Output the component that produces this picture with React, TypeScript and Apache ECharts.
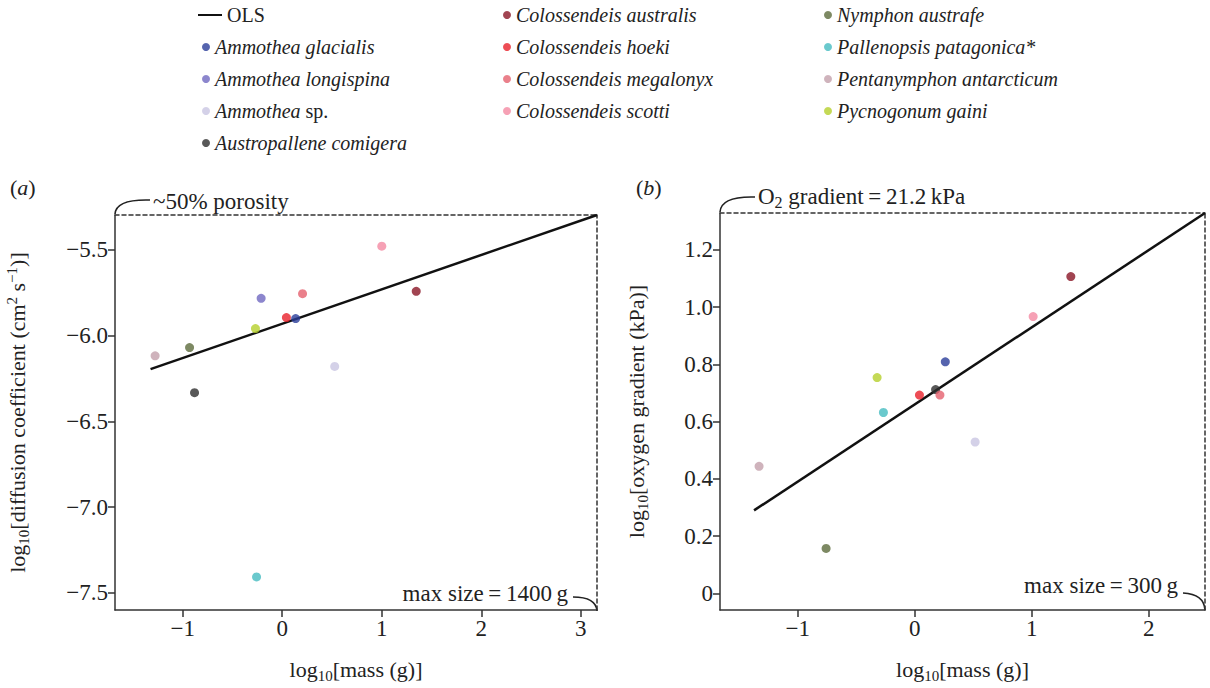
import { useEffect, useRef } from "react";
import * as echarts from "echarts";

// ---- data ----
const speciesNames = [
  "Ammothea glacialis",
  "Ammothea longispina",
  "Ammothea sp.",
  "Austropallene comigera",
  "Colossendeis australis",
  "Colossendeis hoeki",
  "Colossendeis megalonyx",
  "Colossendeis scotti",
  "Nymphon austrafe",
  "Pallenopsis patagonica*",
  "Pentanymphon antarcticum",
  "Pycnogonum gaini",
];
const speciesColors = [
  "#2a3d9a",
  "#6f68c0",
  "#c9c6e2",
  "#2e2e2e",
  "#8a1526",
  "#e8202a",
  "#e5606e",
  "#f48aa2",
  "#5c6b3c",
  "#45bcc0",
  "#c3a0ab",
  "#b5cf2c",
];
// panel (a): log10 mass vs log10 diffusion coefficient
const massA = [0.135, -0.212, 0.527, -0.881, 1.346, 0.042, 0.204, 1.0, -0.931, -0.258, -1.277, -0.269];
const diffusionA = [-5.901, -5.783, -6.18, -6.333, -5.742, -5.895, -5.756, -5.479, -6.07, -7.407, -6.118, -5.959];
// panel (b): log10 mass vs log10 oxygen gradient
const massB = [0.261, null, 0.516, 0.178, 1.334, 0.04, 0.215, 1.012, -0.758, -0.268, -1.331, -0.322];
const gradientB = [0.809, null, 0.529, 0.712, 1.107, 0.693, 0.693, 0.967, 0.157, 0.632, 0.444, 0.754];
const olsA = [[-1.323, -6.196], [3.162, -5.297]];
const olsB = [[-1.374, 0.29], [2.481, 1.329]];
const xTicksA = [-1, 0, 1, 2, 3];
const yTicksA = [-7.5, -7, -6.5, -6, -5.5];
const xTicksB = [-1, 0, 1, 2];
const yTicksB = [0, 0.2, 0.4, 0.6, 0.8, 1.0, 1.2];
const rangeA = { xMin: -1.68, xMax: 3.162, yMin: -7.6, yMax: -5.297 };
const rangeB = { xMin: -1.665, xMax: 2.481, yMin: -0.058, yMax: 1.329 };

const FONT = "Liberation Serif";
const INK = "#222";
const FS = 20; // legend
const FT = 22; // titles
const FA = 23; // annotations / ticks

const minus = (s: string) => s.replace("-", "\u2212");
const fmtInt = (v: number) => minus(String(Math.round(v)));
const fmt1 = (v: number) => (Math.abs(v) < 1e-9 ? "0" : minus(v.toFixed(1)));

function rich(size: number) {
  return {
    n: { fontFamily: FONT, fontSize: size, color: INK },
    i: { fontFamily: FONT, fontSize: size, color: INK, fontStyle: "italic" },
    sub: { fontFamily: FONT, fontSize: Math.round(size * 0.68), color: INK, padding: [13, 0, 0, 0] },
    sup: { fontFamily: FONT, fontSize: Math.round(size * 0.68), color: INK, padding: [0, 0, 11, 0] },
  };
}

function bottomAxis(gridIndex: number, r: any, ticks: number[], fmt: (v: number) => string) {
  return {
    type: "value",
    gridIndex,
    position: "bottom",
    min: r.xMin,
    max: r.xMax,
    splitLine: { show: false },
    axisLine: { show: true, onZero: false, lineStyle: { color: "#333", width: 1.5 } },
    axisTick: { show: true, length: 7, customValues: ticks, lineStyle: { color: "#333", width: 1.5 } },
    axisLabel: { customValues: ticks, formatter: fmt, fontFamily: FONT, fontSize: FA, color: INK, margin: 7 },
    name: "{n|log}{sub|10}{n|[mass (g)]}",
    nameLocation: "middle",
    nameGap: 45,
    nameTextStyle: { fontFamily: FONT, fontSize: FT, color: INK, rich: rich(FT) },
  };
}
function topAxis(gridIndex: number, r: any) {
  return {
    type: "value",
    gridIndex,
    position: "top",
    min: r.xMin,
    max: r.xMax,
    splitLine: { show: false },
    axisLine: { show: true, onZero: false, lineStyle: { color: "#333", width: 1.5, type: [4, 3] } },
    axisTick: { show: false },
    axisLabel: { show: false },
  };
}
function leftAxis(gridIndex: number, r: any, ticks: number[], name: string, gap: number) {
  return {
    type: "value",
    gridIndex,
    position: "left",
    min: r.yMin,
    max: r.yMax,
    splitLine: { show: false },
    axisLine: { show: true, onZero: false, lineStyle: { color: "#333", width: 1.5 } },
    axisTick: { show: true, length: 7, customValues: ticks, lineStyle: { color: "#333", width: 1.5 } },
    axisLabel: { customValues: ticks, formatter: fmt1, fontFamily: FONT, fontSize: FA, color: INK, margin: 7 },
    name,
    nameLocation: "middle",
    nameRotate: 90,
    nameGap: gap,
    nameTextStyle: { fontFamily: FONT, fontSize: FT, color: INK, rich: rich(FT) },
  };
}
function rightAxis(gridIndex: number, r: any) {
  return {
    type: "value",
    gridIndex,
    position: "right",
    min: r.yMin,
    max: r.yMax,
    splitLine: { show: false },
    axisLine: { show: true, onZero: false, lineStyle: { color: "#333", width: 1.5, type: [4, 3] } },
    axisTick: { show: false },
    axisLabel: { show: false },
  };
}

function legendFormatter(name: string) {
  if (name === "OLS") return "{n|OLS}";
  if (name === "Ammothea sp.") return "{i|Ammothea} {n|sp.}";
  return "{i|" + name + "}";
}
const legendRich = {
  n: { fontFamily: FONT, fontSize: FS, color: INK, lineHeight: 24 },
  i: { fontFamily: FONT, fontSize: FS, color: INK, fontStyle: "italic", lineHeight: 24 },
};
function speciesLegend(names: string[], left: number, top: number) {
  return {
    orient: "vertical",
    left,
    top,
    icon: "circle",
    itemWidth: 8,
    itemHeight: 8,
    itemGap: 8,
    padding: 0,
    data: names,
    formatter: legendFormatter,
    textStyle: { fontFamily: FONT, fontSize: FS, color: INK, lineHeight: 24, rich: legendRich },
  };
}

export default function App() {
  const ref = useRef<HTMLDivElement>(null);
  useEffect(() => {
    document.body.style.margin = "0";
    if (!ref.current) return;
    const chart = echarts.init(ref.current, undefined, { renderer: "svg" });

    const gA = { left: 115, top: 215, width: 482, height: 397 };
    const gB = { left: 720, top: 213, width: 485, height: 398 };

    const series: any[] = [];
    [olsA, olsB].forEach((d, k) => {
      series.push({
        type: "line",
        name: "OLS",
        xAxisIndex: k * 2,
        yAxisIndex: k * 2,
        data: d,
        symbol: "none",
        lineStyle: { color: "#111", width: 2.5 },
        itemStyle: { color: "#111" },
        z: 2,
      });
    });
    speciesNames.forEach((name, i) => {
      series.push({
        type: "scatter",
        name,
        xAxisIndex: 0,
        yAxisIndex: 0,
        data: [[massA[i], diffusionA[i]]],
        symbolSize: 9,
        itemStyle: { color: speciesColors[i] },
        z: 3,
      });
      series.push({
        type: "scatter",
        name,
        xAxisIndex: 2,
        yAxisIndex: 2,
        data: massB[i] === null ? [] : [[massB[i], gradientB[i]]],
        symbolSize: 9,
        itemStyle: { color: speciesColors[i] },
        z: 3,
      });
    });

    const txt = (x: number, y: number, text: string, align = "left", size = FA) => ({
      type: "text",
      x,
      y,
      style: {
        text,
        fontFamily: FONT,
        fontSize: size,
        fill: INK,
        align,
        verticalAlign: "middle",
        rich: rich(size),
      },
    });
    const curve = (x1: number, y1: number, cx: number, cy: number, x2: number, y2: number) => ({
      type: "bezierCurve",
      shape: { x1, y1, x2, y2, cpx1: cx, cpy1: cy },
      style: { stroke: INK, lineWidth: 1.6, fill: "none" },
    });

    chart.setOption({
      animation: false,
      backgroundColor: "#fff",
      grid: [
        { ...gA, containLabel: false },
        { ...gB, containLabel: false },
      ],
      xAxis: [bottomAxis(0, rangeA, xTicksA, fmtInt), topAxis(0, rangeA), bottomAxis(1, rangeB, xTicksB, fmtInt), topAxis(1, rangeB)],
      yAxis: [
        leftAxis(0, rangeA, yTicksA, "{n|log}{sub|10}{n|[diffusion coefficient (cm}{sup|2}{n| s}{sup|\u22121}{n|)]}", 84),
        rightAxis(0, rangeA),
        leftAxis(1, rangeB, yTicksB, "{n|log}{sub|10}{n|[oxygen gradient (kPa)]}", 70),
        rightAxis(1, rangeB),
      ],
      legend: [
        {
          left: 198,
          top: 3,
          padding: 0,
          icon: "rect",
          itemWidth: 24,
          itemHeight: 2,
          data: ["OLS"],
          formatter: legendFormatter,
          textStyle: { fontFamily: FONT, fontSize: FS, color: INK, lineHeight: 24, rich: legendRich },
        },
        speciesLegend(speciesNames.slice(0, 4), 202, 35),
        speciesLegend(speciesNames.slice(4, 8), 503, 3),
        speciesLegend(speciesNames.slice(8, 12), 824, 3),
      ],
      graphic: [
        txt(10, 187, "{n|(}{i|a}{n|)}", "left", 22),
        txt(636, 187, "{n|(}{i|b}{n|)}", "left", 22),
        txt(153, 201, "{n|~50% porosity}"),
        curve(115, 214, 116, 199, 150, 200),
        txt(758, 196, "{n|O}{sub|2}{n| gradient\u2009=\u200921.2\u2009kPa}"),
        curve(720, 212, 721, 196, 755, 197),
        txt(568, 593, "{n|max size\u2009=\u20091400\u2009g}", "right"),
        curve(573, 597, 596, 597, 597, 611),
        txt(1178, 585, "{n|max size\u2009=\u2009300\u2009g}", "right"),
        curve(1183, 593, 1204, 594, 1205, 610),
      ],
      series,
    });
    return () => chart.dispose();
  }, []);
  return <div ref={ref} style={{ width: 1210, height: 688 }} />;
}
